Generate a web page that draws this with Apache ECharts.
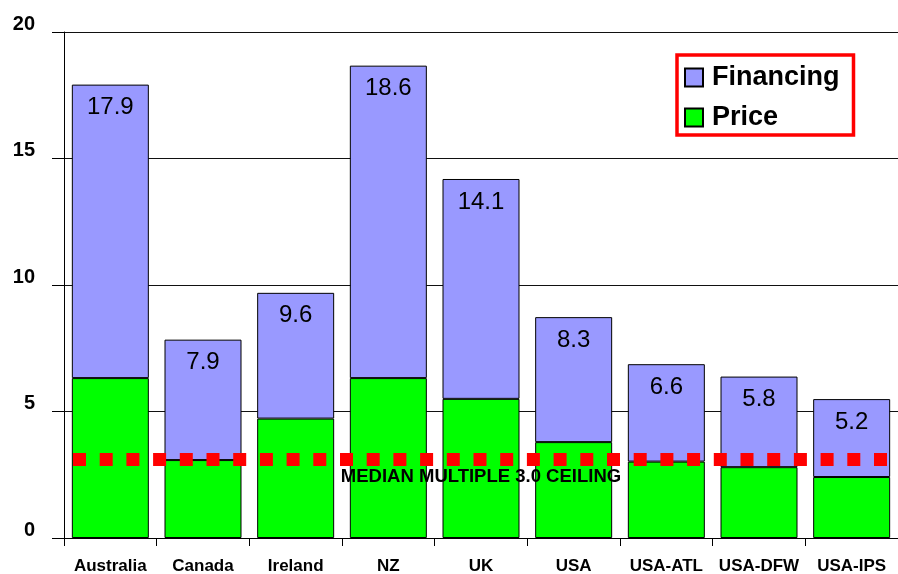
<!DOCTYPE html>
<html>
<head>
<meta charset="utf-8">
<script src="https://cdn.jsdelivr.net/npm/echarts@6/dist/echarts.min.js"></script>
<style>html,body{margin:0;padding:0;background:#fff;}#c{width:898px;height:574px;}</style>
</head>
<body>
<div id="c"></div>
<script>
var categories = ['Australia','Canada','Ireland','NZ','UK','USA','USA-ATL','USA-DFW','USA-IPS'];
var price = [6.32, 3.08, 4.72, 6.32, 5.5, 3.79, 3.02, 2.8, 2.41];
var financing = [11.6, 4.76, 4.97, 12.35, 8.69, 4.94, 3.85, 3.58, 3.08];
var totalLabels = ['17.9','7.9','9.6','18.6','14.1','8.3','6.6','5.8','5.2'];
var ceilingValue = 3.12;
var ceilingText = 'MEDIAN MULTIPLE 3.0 CEILING';
var yTicks = {min: 0, max: 20, interval: 5};

var chart = echarts.init(document.getElementById('c'), null, {renderer: 'canvas'});
var font = 'Liberation Sans, Arial, sans-serif';
chart.setOption({
  animation: false,
  backgroundColor: '#fff',
  grid: {left: 64, right: 0, top: 32, bottom: 36, outerBoundsMode: 'none'},
  legend: {
    data: [{name: 'Financing', icon: 'rect'}, {name: 'Price', icon: 'rect'}],
    orient: 'vertical',
    left: 677,
    top: 55,
    backgroundColor: '#fff',
    borderColor: '#ff0000',
    borderWidth: 3.5,
    borderRadius: 0,
    padding: [9, 14, 4, 7],
    itemWidth: 18,
    itemHeight: 18,
    itemGap: 13,
    textStyle: {fontFamily: font, fontWeight: 'bold', fontSize: 27, color: '#000', padding: [0, 0, 0, 4]}
  },
  xAxis: {
    type: 'category',
    data: categories,
    axisLine: {lineStyle: {color: '#000', width: 1}},
    axisTick: {show: true, length: 8, interval: 0, lineStyle: {color: '#000'}},
    axisLabel: {interval: 0, margin: 20, fontFamily: font, fontWeight: 'bold', fontSize: 17, color: '#000'}
  },
  yAxis: {
    type: 'value',
    min: yTicks.min, max: yTicks.max, interval: yTicks.interval,
    axisLine: {show: true, lineStyle: {color: '#000', width: 1}},
    axisTick: {show: true, length: 12, lineStyle: {color: '#000'}},
    splitLine: {show: true, lineStyle: {color: '#111', width: 1}},
    axisLabel: {margin: 29, fontFamily: font, fontWeight: 'bold', fontSize: 20, color: '#000', verticalAlign: 'bottom', lineHeight: 20, padding: [0, 0, -2, 0]}
  },
  series: [
    {
      name: 'Price', type: 'bar', stack: 't', data: price, barWidth: 77,
      itemStyle: {color: '#00ff00', borderColor: '#000', borderWidth: 1}
    },
    {
      name: 'Financing', type: 'bar', stack: 't', data: financing, barWidth: 77,
      itemStyle: {color: '#9999ff', borderColor: '#000', borderWidth: 1},
      label: {
        show: true, position: 'insideTop', distance: 11,
        fontFamily: font, fontSize: 24, color: '#000',
        formatter: function (p) { return totalLabels[p.dataIndex]; }
      },
      markLine: {
        silent: true,
        symbol: 'none',
        data: [{yAxis: ceilingValue}],
        lineStyle: {color: '#ff0000', width: 13, type: [13, 13.7], dashOffset: 17.7, cap: 'butt', opacity: 1},
        label: {
          show: true, position: 'insideMiddleBottom', distance: 8,
          formatter: ceilingText,
          fontFamily: font, fontWeight: 'bold', fontSize: 18.5, color: '#000'
        },
        z: 10
      }
    }
  ]
});
</script>
</body>
</html>
